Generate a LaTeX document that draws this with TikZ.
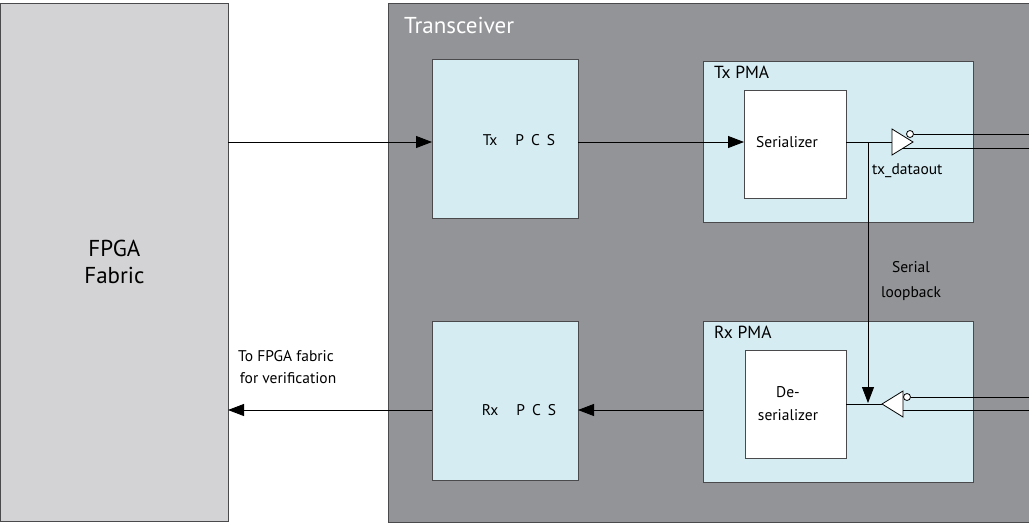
\documentclass[tikz,border=0pt]{standalone}
\usepackage{fontspec}
\setmainfont{PT Sans}
\usetikzlibrary{arrows.meta}
\definecolor{fabc}{HTML}{D3D3D5}
\definecolor{xcvc}{HTML}{939497}
\definecolor{blkc}{HTML}{D5ECF3}
\definecolor{edgec}{HTML}{4A4A4C}
\begin{document}
\begin{tikzpicture}[x=1pt,y=-1pt,
  box/.style={draw=edgec,line width=0.8pt,anchor=north west,inner sep=0pt},
  lbl/.style={font=\fontsize{15.5}{17}\selectfont,text=black,inner sep=0pt},
  lbl2/.style={font=\fontsize{15.5}{23}\selectfont,text=black,inner sep=0pt,align=center},
  wire/.style={draw=black,line width=0.8pt},
  arr/.style={wire,-{Triangle[length=16pt,width=12pt]}},
  buf/.style={draw=black,fill=white,line width=0.8pt},
]
\useasboundingbox (0,0) rectangle (1029,525);
\clip (0,0) rectangle (1029,525);
% blocks
\node[box,fill=fabc,minimum width=228pt,minimum height=518pt,align=center,font=\fontsize{23}{27}\selectfont] (fpga) at (0,3) {FPGA\\Fabric};
\node[box,fill=xcvc,minimum width=660pt,minimum height=519pt] (xcv) at (388,3) {};
\node[lbl,anchor=north west,text=white,font=\fontsize{23}{25}\selectfont] (xcvl) at (404,17) {Transceiver};
\node[box,fill=blkc,minimum width=146pt,minimum height=159pt] (txpcs) at (432,59) {};
\node[box,fill=blkc,minimum width=146pt,minimum height=159pt] (rxpcs) at (432,321) {};
\node[lbl] (txpcsl) at (519,140) {Tx\hspace{18pt}P\hspace{7pt}C\hspace{7pt}S};
\node[lbl] (rxpcsl) at (519,410) {Rx\hspace{18pt}P\hspace{7pt}C\hspace{7pt}S};
\node[box,fill=blkc,minimum width=270pt,minimum height=161pt] (txpma) at (703,61) {};
\node[box,fill=blkc,minimum width=270pt,minimum height=161pt] (rxpma) at (703,321) {};
\node[lbl,anchor=north west,font=\fontsize{17.5}{19}\selectfont] (txpmal) at (714,66) {Tx PMA};
\node[lbl,anchor=north west,font=\fontsize{17.5}{19}\selectfont] (rxpmal) at (714,326) {Rx PMA};
\node[box,fill=white,minimum width=102pt,minimum height=108pt] (ser) at (744,90) {};
\node[box,fill=white,minimum width=101pt,minimum height=108pt] (des) at (745,350) {};
\node[lbl] (serl) at (787,142) {Serializer};
\node[lbl2] (desl) at (788,404) {De-\\serializer};
% labels
\node[lbl,anchor=north west] (txdl) at (872,163) {tx\_dataout};
\node[lbl2,font=\fontsize{15.5}{25}\selectfont] (sll) at (911,281) {Serial\\loopback};
\node[lbl2,font=\fontsize{15.5}{22}\selectfont] (tofl) at (286,367) {To FPGA fabric\\ \ for verification};
% coordinates
\coordinate (fpgaT) at (228,142);
\coordinate (fpgaR) at (228,410);
\coordinate (txin) at (432,142);
\coordinate (txout) at (578,142);
\coordinate (serin) at (744,142);
\coordinate (serout) at (846,142);
\coordinate (tb) at (892,142);
\coordinate (tap) at (868,142);
\coordinate (tapend) at (868,403);
\coordinate (desout) at (846,404);
\coordinate (rtip) at (882,404);
\coordinate (rxpcsR) at (578,410);
\coordinate (rxpcsL) at (432,410);
\coordinate (rxpmaL) at (703,410);
% connectors
\draw[arr] (fpgaT) -- (txin);
\draw[arr] (txout) -- (serin);
\draw[wire] (serout) -- (tb);
\draw[arr] (tap) -- (tapend);
\draw[wire] (desout) -- (rtip);
\draw[arr] (rxpmaL) -- (rxpcsR);
\draw[arr] (rxpcsL) -- (fpgaR);
% tx buffer
\draw[buf] (892,129) -- (892,155) -- (913,142) -- cycle;
\draw[buf] (910,134) circle (3.5);
\coordinate (txp) at (913.5,134);
\coordinate (txn) at (903,148.5);
\coordinate (txpE) at (1029,134);
\coordinate (txnE) at (1029,148.5);
\draw[wire] (txp) -- (txpE);
\draw[wire] (txn) -- (txnE);
% rx buffer
\draw[buf] (903,391) -- (903,417) -- (882,404) -- cycle;
\draw[buf] (907,397) circle (3.5);
\coordinate (rxp) at (910.5,397);
\coordinate (rxn) at (903,410.5);
\coordinate (rxpE) at (1029,397);
\coordinate (rxnE) at (1029,410.5);
\draw[wire] (rxp) -- (rxpE);
\draw[wire] (rxn) -- (rxnE);
\end{tikzpicture}
\end{document}
